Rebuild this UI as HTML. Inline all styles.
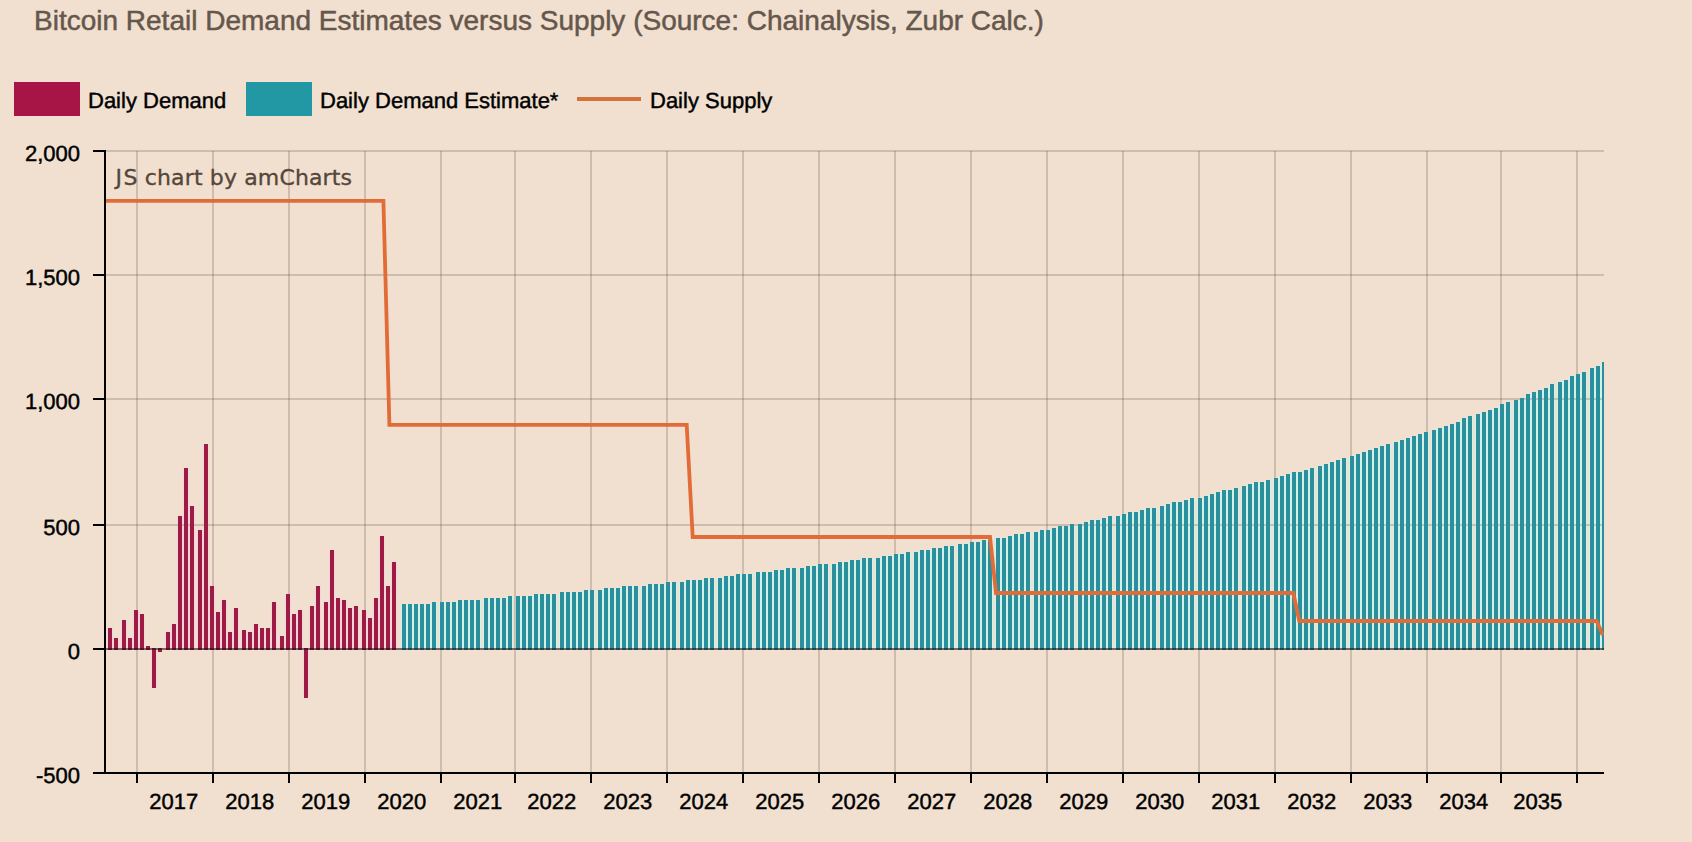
<!DOCTYPE html>
<html lang="en"><head><meta charset="utf-8"><title>Bitcoin Retail Demand Estimates versus Supply</title>
<style>html,body{margin:0;padding:0;background:#f1e0d0;}body{width:1692px;height:842px;overflow:hidden;}svg{display:block}</style>
</head><body>
<svg width="1692" height="842" viewBox="0 0 1692 842" shape-rendering="crispEdges">
<rect width="1692" height="842" fill="#f1e0d0"/>
<defs><clipPath id="pc"><rect x="104" y="140" width="1500" height="640"/></clipPath></defs>
<g clip-path="url(#pc)">
<g fill="#f7d4d9">
<rect x="107" y="628" width="6" height="20"/>
<rect x="113" y="638" width="6" height="10"/>
<rect x="121" y="620" width="6" height="28"/>
<rect x="127" y="638" width="6" height="10"/>
<rect x="133" y="610" width="6" height="38"/>
<rect x="139" y="614" width="6" height="34"/>
<rect x="145" y="646" width="6" height="2"/>
<rect x="151" y="650" width="6" height="38"/>
<rect x="157" y="650" width="6" height="2"/>
<rect x="165" y="632" width="6" height="16"/>
<rect x="171" y="624" width="6" height="24"/>
<rect x="177" y="516" width="6" height="132"/>
<rect x="183" y="468" width="6" height="180"/>
<rect x="189" y="506" width="6" height="142"/>
<rect x="197" y="530" width="6" height="118"/>
<rect x="203" y="444" width="6" height="204"/>
<rect x="209" y="586" width="6" height="62"/>
<rect x="215" y="612" width="6" height="36"/>
<rect x="221" y="600" width="6" height="48"/>
<rect x="227" y="632" width="6" height="16"/>
<rect x="233" y="608" width="6" height="40"/>
<rect x="241" y="630" width="6" height="18"/>
<rect x="247" y="632" width="6" height="16"/>
<rect x="253" y="624" width="6" height="24"/>
<rect x="259" y="628" width="6" height="20"/>
<rect x="265" y="628" width="6" height="20"/>
<rect x="271" y="602" width="6" height="46"/>
<rect x="279" y="636" width="6" height="12"/>
<rect x="285" y="594" width="6" height="54"/>
<rect x="291" y="614" width="6" height="34"/>
<rect x="297" y="610" width="6" height="38"/>
<rect x="303" y="650" width="6" height="48"/>
<rect x="309" y="606" width="6" height="42"/>
<rect x="315" y="586" width="6" height="62"/>
<rect x="323" y="602" width="6" height="46"/>
<rect x="329" y="550" width="6" height="98"/>
<rect x="335" y="598" width="6" height="50"/>
<rect x="341" y="600" width="6" height="48"/>
<rect x="347" y="608" width="6" height="40"/>
<rect x="353" y="606" width="6" height="42"/>
<rect x="361" y="610" width="6" height="38"/>
<rect x="367" y="618" width="6" height="30"/>
<rect x="373" y="598" width="6" height="50"/>
<rect x="379" y="536" width="6" height="112"/>
<rect x="385" y="586" width="6" height="62"/>
<rect x="391" y="562" width="6" height="86"/>
</g>
<g fill="#d3f1e8">
<rect x="401" y="604" width="6" height="44"/>
<rect x="407" y="604" width="6" height="44"/>
<rect x="413" y="604" width="6" height="44"/>
<rect x="419" y="604" width="6" height="44"/>
<rect x="425" y="604" width="6" height="44"/>
<rect x="431" y="602" width="6" height="46"/>
<rect x="439" y="602" width="6" height="46"/>
<rect x="445" y="602" width="6" height="46"/>
<rect x="451" y="602" width="6" height="46"/>
<rect x="457" y="600" width="6" height="48"/>
<rect x="463" y="600" width="6" height="48"/>
<rect x="469" y="600" width="6" height="48"/>
<rect x="475" y="600" width="6" height="48"/>
<rect x="483" y="598" width="6" height="50"/>
<rect x="489" y="598" width="6" height="50"/>
<rect x="495" y="598" width="6" height="50"/>
<rect x="501" y="598" width="6" height="50"/>
<rect x="507" y="596" width="6" height="52"/>
<rect x="515" y="596" width="6" height="52"/>
<rect x="521" y="596" width="6" height="52"/>
<rect x="527" y="596" width="6" height="52"/>
<rect x="533" y="594" width="6" height="54"/>
<rect x="539" y="594" width="6" height="54"/>
<rect x="545" y="594" width="6" height="54"/>
<rect x="551" y="594" width="6" height="54"/>
<rect x="559" y="592" width="6" height="56"/>
<rect x="565" y="592" width="6" height="56"/>
<rect x="571" y="592" width="6" height="56"/>
<rect x="577" y="592" width="6" height="56"/>
<rect x="583" y="590" width="6" height="58"/>
<rect x="589" y="590" width="6" height="58"/>
<rect x="597" y="590" width="6" height="58"/>
<rect x="603" y="588" width="6" height="60"/>
<rect x="609" y="588" width="6" height="60"/>
<rect x="615" y="588" width="6" height="60"/>
<rect x="621" y="586" width="6" height="62"/>
<rect x="627" y="586" width="6" height="62"/>
<rect x="633" y="586" width="6" height="62"/>
<rect x="641" y="586" width="6" height="62"/>
<rect x="647" y="584" width="6" height="64"/>
<rect x="653" y="584" width="6" height="64"/>
<rect x="659" y="584" width="6" height="64"/>
<rect x="665" y="582" width="6" height="66"/>
<rect x="671" y="582" width="6" height="66"/>
<rect x="679" y="582" width="6" height="66"/>
<rect x="685" y="580" width="6" height="68"/>
<rect x="691" y="580" width="6" height="68"/>
<rect x="697" y="580" width="6" height="68"/>
<rect x="703" y="578" width="6" height="70"/>
<rect x="709" y="578" width="6" height="70"/>
<rect x="717" y="578" width="6" height="70"/>
<rect x="723" y="576" width="6" height="72"/>
<rect x="729" y="576" width="6" height="72"/>
<rect x="735" y="574" width="6" height="74"/>
<rect x="741" y="574" width="6" height="74"/>
<rect x="747" y="574" width="6" height="74"/>
<rect x="755" y="572" width="6" height="76"/>
<rect x="761" y="572" width="6" height="76"/>
<rect x="767" y="572" width="6" height="76"/>
<rect x="773" y="570" width="6" height="78"/>
<rect x="779" y="570" width="6" height="78"/>
<rect x="785" y="568" width="6" height="80"/>
<rect x="791" y="568" width="6" height="80"/>
<rect x="799" y="568" width="6" height="80"/>
<rect x="805" y="566" width="6" height="82"/>
<rect x="811" y="566" width="6" height="82"/>
<rect x="817" y="564" width="6" height="84"/>
<rect x="823" y="564" width="6" height="84"/>
<rect x="831" y="564" width="6" height="84"/>
<rect x="837" y="562" width="6" height="86"/>
<rect x="843" y="562" width="6" height="86"/>
<rect x="849" y="560" width="6" height="88"/>
<rect x="855" y="560" width="6" height="88"/>
<rect x="861" y="558" width="6" height="90"/>
<rect x="867" y="558" width="6" height="90"/>
<rect x="875" y="558" width="6" height="90"/>
<rect x="881" y="556" width="6" height="92"/>
<rect x="887" y="556" width="6" height="92"/>
<rect x="893" y="554" width="6" height="94"/>
<rect x="899" y="554" width="6" height="94"/>
<rect x="905" y="552" width="6" height="96"/>
<rect x="913" y="552" width="6" height="96"/>
<rect x="919" y="550" width="6" height="98"/>
<rect x="925" y="550" width="6" height="98"/>
<rect x="931" y="548" width="6" height="100"/>
<rect x="937" y="548" width="6" height="100"/>
<rect x="943" y="546" width="6" height="102"/>
<rect x="949" y="546" width="6" height="102"/>
<rect x="957" y="544" width="6" height="104"/>
<rect x="963" y="544" width="6" height="104"/>
<rect x="969" y="542" width="6" height="106"/>
<rect x="975" y="542" width="6" height="106"/>
<rect x="981" y="540" width="6" height="108"/>
<rect x="987" y="540" width="6" height="108"/>
<rect x="995" y="538" width="6" height="110"/>
<rect x="1001" y="538" width="6" height="110"/>
<rect x="1007" y="536" width="6" height="112"/>
<rect x="1013" y="534" width="6" height="114"/>
<rect x="1019" y="534" width="6" height="114"/>
<rect x="1025" y="532" width="6" height="116"/>
<rect x="1033" y="532" width="6" height="116"/>
<rect x="1039" y="530" width="6" height="118"/>
<rect x="1045" y="530" width="6" height="118"/>
<rect x="1051" y="528" width="6" height="120"/>
<rect x="1057" y="526" width="6" height="122"/>
<rect x="1063" y="526" width="6" height="122"/>
<rect x="1069" y="524" width="6" height="124"/>
<rect x="1077" y="524" width="6" height="124"/>
<rect x="1083" y="522" width="6" height="126"/>
<rect x="1089" y="520" width="6" height="128"/>
<rect x="1095" y="520" width="6" height="128"/>
<rect x="1101" y="518" width="6" height="130"/>
<rect x="1107" y="516" width="6" height="132"/>
<rect x="1115" y="516" width="6" height="132"/>
<rect x="1121" y="514" width="6" height="134"/>
<rect x="1127" y="512" width="6" height="136"/>
<rect x="1133" y="512" width="6" height="136"/>
<rect x="1139" y="510" width="6" height="138"/>
<rect x="1145" y="508" width="6" height="140"/>
<rect x="1151" y="508" width="6" height="140"/>
<rect x="1159" y="506" width="6" height="142"/>
<rect x="1165" y="504" width="6" height="144"/>
<rect x="1171" y="502" width="6" height="146"/>
<rect x="1177" y="502" width="6" height="146"/>
<rect x="1183" y="500" width="6" height="148"/>
<rect x="1189" y="498" width="6" height="150"/>
<rect x="1197" y="498" width="6" height="150"/>
<rect x="1203" y="496" width="6" height="152"/>
<rect x="1209" y="494" width="6" height="154"/>
<rect x="1215" y="492" width="6" height="156"/>
<rect x="1221" y="490" width="6" height="158"/>
<rect x="1227" y="490" width="6" height="158"/>
<rect x="1233" y="488" width="6" height="160"/>
<rect x="1241" y="486" width="6" height="162"/>
<rect x="1247" y="484" width="6" height="164"/>
<rect x="1253" y="482" width="6" height="166"/>
<rect x="1259" y="482" width="6" height="166"/>
<rect x="1265" y="480" width="6" height="168"/>
<rect x="1273" y="478" width="6" height="170"/>
<rect x="1279" y="476" width="6" height="172"/>
<rect x="1285" y="474" width="6" height="174"/>
<rect x="1291" y="472" width="6" height="176"/>
<rect x="1297" y="472" width="6" height="176"/>
<rect x="1303" y="470" width="6" height="178"/>
<rect x="1309" y="468" width="6" height="180"/>
<rect x="1317" y="466" width="6" height="182"/>
<rect x="1323" y="464" width="6" height="184"/>
<rect x="1329" y="462" width="6" height="186"/>
<rect x="1335" y="460" width="6" height="188"/>
<rect x="1341" y="458" width="6" height="190"/>
<rect x="1349" y="456" width="6" height="192"/>
<rect x="1355" y="454" width="6" height="194"/>
<rect x="1361" y="452" width="6" height="196"/>
<rect x="1367" y="450" width="6" height="198"/>
<rect x="1373" y="448" width="6" height="200"/>
<rect x="1379" y="446" width="6" height="202"/>
<rect x="1385" y="444" width="6" height="204"/>
<rect x="1393" y="442" width="6" height="206"/>
<rect x="1399" y="440" width="6" height="208"/>
<rect x="1405" y="438" width="6" height="210"/>
<rect x="1411" y="436" width="6" height="212"/>
<rect x="1417" y="434" width="6" height="214"/>
<rect x="1423" y="432" width="6" height="216"/>
<rect x="1431" y="430" width="6" height="218"/>
<rect x="1437" y="428" width="6" height="220"/>
<rect x="1443" y="426" width="6" height="222"/>
<rect x="1449" y="424" width="6" height="224"/>
<rect x="1455" y="422" width="6" height="226"/>
<rect x="1461" y="418" width="6" height="230"/>
<rect x="1467" y="416" width="6" height="232"/>
<rect x="1475" y="414" width="6" height="234"/>
<rect x="1481" y="412" width="6" height="236"/>
<rect x="1487" y="410" width="6" height="238"/>
<rect x="1493" y="408" width="6" height="240"/>
<rect x="1499" y="404" width="6" height="244"/>
<rect x="1505" y="402" width="6" height="246"/>
<rect x="1513" y="400" width="6" height="248"/>
<rect x="1519" y="398" width="6" height="250"/>
<rect x="1525" y="394" width="6" height="254"/>
<rect x="1531" y="392" width="6" height="256"/>
<rect x="1537" y="390" width="6" height="258"/>
<rect x="1543" y="388" width="6" height="260"/>
<rect x="1549" y="384" width="6" height="264"/>
<rect x="1557" y="382" width="6" height="266"/>
<rect x="1563" y="380" width="6" height="268"/>
<rect x="1569" y="376" width="6" height="272"/>
<rect x="1575" y="374" width="6" height="274"/>
<rect x="1581" y="372" width="6" height="276"/>
<rect x="1589" y="368" width="6" height="280"/>
<rect x="1595" y="366" width="6" height="282"/>
<rect x="1601" y="362" width="6" height="286"/>
</g>
<g fill="rgba(50,30,15,0.18)">
<rect x="136" y="151" width="2" height="622"/>
<rect x="212" y="151" width="2" height="622"/>
<rect x="288" y="151" width="2" height="622"/>
<rect x="364" y="151" width="2" height="622"/>
<rect x="440" y="151" width="2" height="622"/>
<rect x="514" y="151" width="2" height="622"/>
<rect x="590" y="151" width="2" height="622"/>
<rect x="666" y="151" width="2" height="622"/>
<rect x="742" y="151" width="2" height="622"/>
<rect x="818" y="151" width="2" height="622"/>
<rect x="894" y="151" width="2" height="622"/>
<rect x="970" y="151" width="2" height="622"/>
<rect x="1046" y="151" width="2" height="622"/>
<rect x="1122" y="151" width="2" height="622"/>
<rect x="1198" y="151" width="2" height="622"/>
<rect x="1274" y="151" width="2" height="622"/>
<rect x="1350" y="151" width="2" height="622"/>
<rect x="1426" y="151" width="2" height="622"/>
<rect x="1500" y="151" width="2" height="622"/>
<rect x="1576" y="151" width="2" height="622"/>
<rect x="106" y="150" width="1498" height="2"/>
<rect x="106" y="274" width="1498" height="2"/>
<rect x="106" y="398" width="1498" height="2"/>
<rect x="106" y="524" width="1498" height="2"/>
<rect x="106" y="772" width="1498" height="2"/>
</g>
<g fill="#9e1b46">
<rect x="108" y="628" width="4" height="22"/>
<rect x="114" y="638" width="4" height="12"/>
<rect x="122" y="620" width="4" height="30"/>
<rect x="128" y="638" width="4" height="12"/>
<rect x="134" y="610" width="4" height="40"/>
<rect x="140" y="614" width="4" height="36"/>
<rect x="146" y="646" width="4" height="4"/>
<rect x="152" y="648" width="4" height="40"/>
<rect x="158" y="648" width="4" height="4"/>
<rect x="166" y="632" width="4" height="18"/>
<rect x="172" y="624" width="4" height="26"/>
<rect x="178" y="516" width="4" height="134"/>
<rect x="184" y="468" width="4" height="182"/>
<rect x="190" y="506" width="4" height="144"/>
<rect x="198" y="530" width="4" height="120"/>
<rect x="204" y="444" width="4" height="206"/>
<rect x="210" y="586" width="4" height="64"/>
<rect x="216" y="612" width="4" height="38"/>
<rect x="222" y="600" width="4" height="50"/>
<rect x="228" y="632" width="4" height="18"/>
<rect x="234" y="608" width="4" height="42"/>
<rect x="242" y="630" width="4" height="20"/>
<rect x="248" y="632" width="4" height="18"/>
<rect x="254" y="624" width="4" height="26"/>
<rect x="260" y="628" width="4" height="22"/>
<rect x="266" y="628" width="4" height="22"/>
<rect x="272" y="602" width="4" height="48"/>
<rect x="280" y="636" width="4" height="14"/>
<rect x="286" y="594" width="4" height="56"/>
<rect x="292" y="614" width="4" height="36"/>
<rect x="298" y="610" width="4" height="40"/>
<rect x="304" y="648" width="4" height="50"/>
<rect x="310" y="606" width="4" height="44"/>
<rect x="316" y="586" width="4" height="64"/>
<rect x="324" y="602" width="4" height="48"/>
<rect x="330" y="550" width="4" height="100"/>
<rect x="336" y="598" width="4" height="52"/>
<rect x="342" y="600" width="4" height="50"/>
<rect x="348" y="608" width="4" height="42"/>
<rect x="354" y="606" width="4" height="44"/>
<rect x="362" y="610" width="4" height="40"/>
<rect x="368" y="618" width="4" height="32"/>
<rect x="374" y="598" width="4" height="52"/>
<rect x="380" y="536" width="4" height="114"/>
<rect x="386" y="586" width="4" height="64"/>
<rect x="392" y="562" width="4" height="88"/>
</g>
<g fill="#2a909d">
<rect x="402" y="604" width="4" height="46"/>
<rect x="408" y="604" width="4" height="46"/>
<rect x="414" y="604" width="4" height="46"/>
<rect x="420" y="604" width="4" height="46"/>
<rect x="426" y="604" width="4" height="46"/>
<rect x="432" y="602" width="4" height="48"/>
<rect x="440" y="602" width="4" height="48"/>
<rect x="446" y="602" width="4" height="48"/>
<rect x="452" y="602" width="4" height="48"/>
<rect x="458" y="600" width="4" height="50"/>
<rect x="464" y="600" width="4" height="50"/>
<rect x="470" y="600" width="4" height="50"/>
<rect x="476" y="600" width="4" height="50"/>
<rect x="484" y="598" width="4" height="52"/>
<rect x="490" y="598" width="4" height="52"/>
<rect x="496" y="598" width="4" height="52"/>
<rect x="502" y="598" width="4" height="52"/>
<rect x="508" y="596" width="4" height="54"/>
<rect x="516" y="596" width="4" height="54"/>
<rect x="522" y="596" width="4" height="54"/>
<rect x="528" y="596" width="4" height="54"/>
<rect x="534" y="594" width="4" height="56"/>
<rect x="540" y="594" width="4" height="56"/>
<rect x="546" y="594" width="4" height="56"/>
<rect x="552" y="594" width="4" height="56"/>
<rect x="560" y="592" width="4" height="58"/>
<rect x="566" y="592" width="4" height="58"/>
<rect x="572" y="592" width="4" height="58"/>
<rect x="578" y="592" width="4" height="58"/>
<rect x="584" y="590" width="4" height="60"/>
<rect x="590" y="590" width="4" height="60"/>
<rect x="598" y="590" width="4" height="60"/>
<rect x="604" y="588" width="4" height="62"/>
<rect x="610" y="588" width="4" height="62"/>
<rect x="616" y="588" width="4" height="62"/>
<rect x="622" y="586" width="4" height="64"/>
<rect x="628" y="586" width="4" height="64"/>
<rect x="634" y="586" width="4" height="64"/>
<rect x="642" y="586" width="4" height="64"/>
<rect x="648" y="584" width="4" height="66"/>
<rect x="654" y="584" width="4" height="66"/>
<rect x="660" y="584" width="4" height="66"/>
<rect x="666" y="582" width="4" height="68"/>
<rect x="672" y="582" width="4" height="68"/>
<rect x="680" y="582" width="4" height="68"/>
<rect x="686" y="580" width="4" height="70"/>
<rect x="692" y="580" width="4" height="70"/>
<rect x="698" y="580" width="4" height="70"/>
<rect x="704" y="578" width="4" height="72"/>
<rect x="710" y="578" width="4" height="72"/>
<rect x="718" y="578" width="4" height="72"/>
<rect x="724" y="576" width="4" height="74"/>
<rect x="730" y="576" width="4" height="74"/>
<rect x="736" y="574" width="4" height="76"/>
<rect x="742" y="574" width="4" height="76"/>
<rect x="748" y="574" width="4" height="76"/>
<rect x="756" y="572" width="4" height="78"/>
<rect x="762" y="572" width="4" height="78"/>
<rect x="768" y="572" width="4" height="78"/>
<rect x="774" y="570" width="4" height="80"/>
<rect x="780" y="570" width="4" height="80"/>
<rect x="786" y="568" width="4" height="82"/>
<rect x="792" y="568" width="4" height="82"/>
<rect x="800" y="568" width="4" height="82"/>
<rect x="806" y="566" width="4" height="84"/>
<rect x="812" y="566" width="4" height="84"/>
<rect x="818" y="564" width="4" height="86"/>
<rect x="824" y="564" width="4" height="86"/>
<rect x="832" y="564" width="4" height="86"/>
<rect x="838" y="562" width="4" height="88"/>
<rect x="844" y="562" width="4" height="88"/>
<rect x="850" y="560" width="4" height="90"/>
<rect x="856" y="560" width="4" height="90"/>
<rect x="862" y="558" width="4" height="92"/>
<rect x="868" y="558" width="4" height="92"/>
<rect x="876" y="558" width="4" height="92"/>
<rect x="882" y="556" width="4" height="94"/>
<rect x="888" y="556" width="4" height="94"/>
<rect x="894" y="554" width="4" height="96"/>
<rect x="900" y="554" width="4" height="96"/>
<rect x="906" y="552" width="4" height="98"/>
<rect x="914" y="552" width="4" height="98"/>
<rect x="920" y="550" width="4" height="100"/>
<rect x="926" y="550" width="4" height="100"/>
<rect x="932" y="548" width="4" height="102"/>
<rect x="938" y="548" width="4" height="102"/>
<rect x="944" y="546" width="4" height="104"/>
<rect x="950" y="546" width="4" height="104"/>
<rect x="958" y="544" width="4" height="106"/>
<rect x="964" y="544" width="4" height="106"/>
<rect x="970" y="542" width="4" height="108"/>
<rect x="976" y="542" width="4" height="108"/>
<rect x="982" y="540" width="4" height="110"/>
<rect x="988" y="540" width="4" height="110"/>
<rect x="996" y="538" width="4" height="112"/>
<rect x="1002" y="538" width="4" height="112"/>
<rect x="1008" y="536" width="4" height="114"/>
<rect x="1014" y="534" width="4" height="116"/>
<rect x="1020" y="534" width="4" height="116"/>
<rect x="1026" y="532" width="4" height="118"/>
<rect x="1034" y="532" width="4" height="118"/>
<rect x="1040" y="530" width="4" height="120"/>
<rect x="1046" y="530" width="4" height="120"/>
<rect x="1052" y="528" width="4" height="122"/>
<rect x="1058" y="526" width="4" height="124"/>
<rect x="1064" y="526" width="4" height="124"/>
<rect x="1070" y="524" width="4" height="126"/>
<rect x="1078" y="524" width="4" height="126"/>
<rect x="1084" y="522" width="4" height="128"/>
<rect x="1090" y="520" width="4" height="130"/>
<rect x="1096" y="520" width="4" height="130"/>
<rect x="1102" y="518" width="4" height="132"/>
<rect x="1108" y="516" width="4" height="134"/>
<rect x="1116" y="516" width="4" height="134"/>
<rect x="1122" y="514" width="4" height="136"/>
<rect x="1128" y="512" width="4" height="138"/>
<rect x="1134" y="512" width="4" height="138"/>
<rect x="1140" y="510" width="4" height="140"/>
<rect x="1146" y="508" width="4" height="142"/>
<rect x="1152" y="508" width="4" height="142"/>
<rect x="1160" y="506" width="4" height="144"/>
<rect x="1166" y="504" width="4" height="146"/>
<rect x="1172" y="502" width="4" height="148"/>
<rect x="1178" y="502" width="4" height="148"/>
<rect x="1184" y="500" width="4" height="150"/>
<rect x="1190" y="498" width="4" height="152"/>
<rect x="1198" y="498" width="4" height="152"/>
<rect x="1204" y="496" width="4" height="154"/>
<rect x="1210" y="494" width="4" height="156"/>
<rect x="1216" y="492" width="4" height="158"/>
<rect x="1222" y="490" width="4" height="160"/>
<rect x="1228" y="490" width="4" height="160"/>
<rect x="1234" y="488" width="4" height="162"/>
<rect x="1242" y="486" width="4" height="164"/>
<rect x="1248" y="484" width="4" height="166"/>
<rect x="1254" y="482" width="4" height="168"/>
<rect x="1260" y="482" width="4" height="168"/>
<rect x="1266" y="480" width="4" height="170"/>
<rect x="1274" y="478" width="4" height="172"/>
<rect x="1280" y="476" width="4" height="174"/>
<rect x="1286" y="474" width="4" height="176"/>
<rect x="1292" y="472" width="4" height="178"/>
<rect x="1298" y="472" width="4" height="178"/>
<rect x="1304" y="470" width="4" height="180"/>
<rect x="1310" y="468" width="4" height="182"/>
<rect x="1318" y="466" width="4" height="184"/>
<rect x="1324" y="464" width="4" height="186"/>
<rect x="1330" y="462" width="4" height="188"/>
<rect x="1336" y="460" width="4" height="190"/>
<rect x="1342" y="458" width="4" height="192"/>
<rect x="1350" y="456" width="4" height="194"/>
<rect x="1356" y="454" width="4" height="196"/>
<rect x="1362" y="452" width="4" height="198"/>
<rect x="1368" y="450" width="4" height="200"/>
<rect x="1374" y="448" width="4" height="202"/>
<rect x="1380" y="446" width="4" height="204"/>
<rect x="1386" y="444" width="4" height="206"/>
<rect x="1394" y="442" width="4" height="208"/>
<rect x="1400" y="440" width="4" height="210"/>
<rect x="1406" y="438" width="4" height="212"/>
<rect x="1412" y="436" width="4" height="214"/>
<rect x="1418" y="434" width="4" height="216"/>
<rect x="1424" y="432" width="4" height="218"/>
<rect x="1432" y="430" width="4" height="220"/>
<rect x="1438" y="428" width="4" height="222"/>
<rect x="1444" y="426" width="4" height="224"/>
<rect x="1450" y="424" width="4" height="226"/>
<rect x="1456" y="422" width="4" height="228"/>
<rect x="1462" y="418" width="4" height="232"/>
<rect x="1468" y="416" width="4" height="234"/>
<rect x="1476" y="414" width="4" height="236"/>
<rect x="1482" y="412" width="4" height="238"/>
<rect x="1488" y="410" width="4" height="240"/>
<rect x="1494" y="408" width="4" height="242"/>
<rect x="1500" y="404" width="4" height="246"/>
<rect x="1506" y="402" width="4" height="248"/>
<rect x="1514" y="400" width="4" height="250"/>
<rect x="1520" y="398" width="4" height="252"/>
<rect x="1526" y="394" width="4" height="256"/>
<rect x="1532" y="392" width="4" height="258"/>
<rect x="1538" y="390" width="4" height="260"/>
<rect x="1544" y="388" width="4" height="262"/>
<rect x="1550" y="384" width="4" height="266"/>
<rect x="1558" y="382" width="4" height="268"/>
<rect x="1564" y="380" width="4" height="270"/>
<rect x="1570" y="376" width="4" height="274"/>
<rect x="1576" y="374" width="4" height="276"/>
<rect x="1582" y="372" width="4" height="278"/>
<rect x="1590" y="368" width="4" height="282"/>
<rect x="1596" y="366" width="4" height="284"/>
<rect x="1602" y="362" width="4" height="288"/>
</g>
<rect x="106" y="648" width="1498" height="2" fill="rgba(20,10,10,0.55)"/>
<polyline points="106.0,200.8 383.4,200.8 389.4,424.9 686.7,424.9 692.7,537.0 990.0,537.0 996.0,593.0 1293.3,593.0 1299.3,621.0 1596.6,621.0 1602.7,635.0" fill="none" stroke="#e26c37" stroke-width="3.8" stroke-linejoin="miter" shape-rendering="geometricPrecision"/>
</g>
<g fill="#000">
<rect x="104" y="150" width="2" height="624"/>
<rect x="93" y="772" width="1511" height="2"/>
<rect x="93" y="150" width="12" height="2"/>
<rect x="93" y="274" width="12" height="2"/>
<rect x="93" y="398" width="12" height="2"/>
<rect x="93" y="524" width="12" height="2"/>
<rect x="93" y="648" width="12" height="2"/>
<rect x="93" y="772" width="12" height="2"/>
<rect x="136" y="774" width="2" height="9"/>
<rect x="212" y="774" width="2" height="9"/>
<rect x="288" y="774" width="2" height="9"/>
<rect x="364" y="774" width="2" height="9"/>
<rect x="440" y="774" width="2" height="9"/>
<rect x="514" y="774" width="2" height="9"/>
<rect x="590" y="774" width="2" height="9"/>
<rect x="666" y="774" width="2" height="9"/>
<rect x="742" y="774" width="2" height="9"/>
<rect x="818" y="774" width="2" height="9"/>
<rect x="894" y="774" width="2" height="9"/>
<rect x="970" y="774" width="2" height="9"/>
<rect x="1046" y="774" width="2" height="9"/>
<rect x="1122" y="774" width="2" height="9"/>
<rect x="1198" y="774" width="2" height="9"/>
<rect x="1274" y="774" width="2" height="9"/>
<rect x="1350" y="774" width="2" height="9"/>
<rect x="1426" y="774" width="2" height="9"/>
<rect x="1500" y="774" width="2" height="9"/>
<rect x="1576" y="774" width="2" height="9"/>
</g>
<g font-family="'Liberation Sans', Arial, Helvetica, sans-serif" font-size="22" fill="#000" stroke="#000" stroke-width="0.45" text-rendering="geometricPrecision">
<text x="80" y="160.5" text-anchor="end">2,000</text>
<text x="80" y="284.5" text-anchor="end">1,500</text>
<text x="80" y="408.5" text-anchor="end">1,000</text>
<text x="80" y="534.5" text-anchor="end">500</text>
<text x="80" y="658.5" text-anchor="end">0</text>
<text x="80" y="782.5" text-anchor="end">-500</text>
<text x="173.8" y="808.6" text-anchor="middle">2017</text>
<text x="249.8" y="808.6" text-anchor="middle">2018</text>
<text x="325.8" y="808.6" text-anchor="middle">2019</text>
<text x="401.8" y="808.6" text-anchor="middle">2020</text>
<text x="477.8" y="808.6" text-anchor="middle">2021</text>
<text x="551.8" y="808.6" text-anchor="middle">2022</text>
<text x="627.8" y="808.6" text-anchor="middle">2023</text>
<text x="703.8" y="808.6" text-anchor="middle">2024</text>
<text x="779.8" y="808.6" text-anchor="middle">2025</text>
<text x="855.8" y="808.6" text-anchor="middle">2026</text>
<text x="931.8" y="808.6" text-anchor="middle">2027</text>
<text x="1007.8" y="808.6" text-anchor="middle">2028</text>
<text x="1083.8" y="808.6" text-anchor="middle">2029</text>
<text x="1159.8" y="808.6" text-anchor="middle">2030</text>
<text x="1235.8" y="808.6" text-anchor="middle">2031</text>
<text x="1311.8" y="808.6" text-anchor="middle">2032</text>
<text x="1387.8" y="808.6" text-anchor="middle">2033</text>
<text x="1463.8" y="808.6" text-anchor="middle">2034</text>
<text x="1537.8" y="808.6" text-anchor="middle">2035</text>
<text x="88" y="107.8">Daily Demand</text>
<text x="320" y="107.8">Daily Demand Estimate*</text>
<text x="650" y="107.8">Daily Supply</text>
</g>
<text x="34" y="29.7" font-family="'Liberation Sans', Arial, Helvetica, sans-serif" font-size="28" fill="#66574c" stroke="#66574c" stroke-width="0.5">Bitcoin Retail Demand Estimates versus Supply (Source: Chainalysis, Zubr Calc.)</text>
<text x="115.6" y="185.3" font-family="'DejaVu Sans', Verdana, sans-serif" font-size="22" letter-spacing="0.14" fill="#55463b" stroke="#55463b" stroke-width="0.35" dx="0 1.3">JS chart by amCharts</text>
<rect x="14" y="82" width="66" height="34" fill="#a61545"/>
<rect x="246" y="82" width="66" height="34" fill="#2198a3"/>
<rect x="577" y="97" width="64" height="4" fill="#d4723b"/>
</svg>
</body></html>
